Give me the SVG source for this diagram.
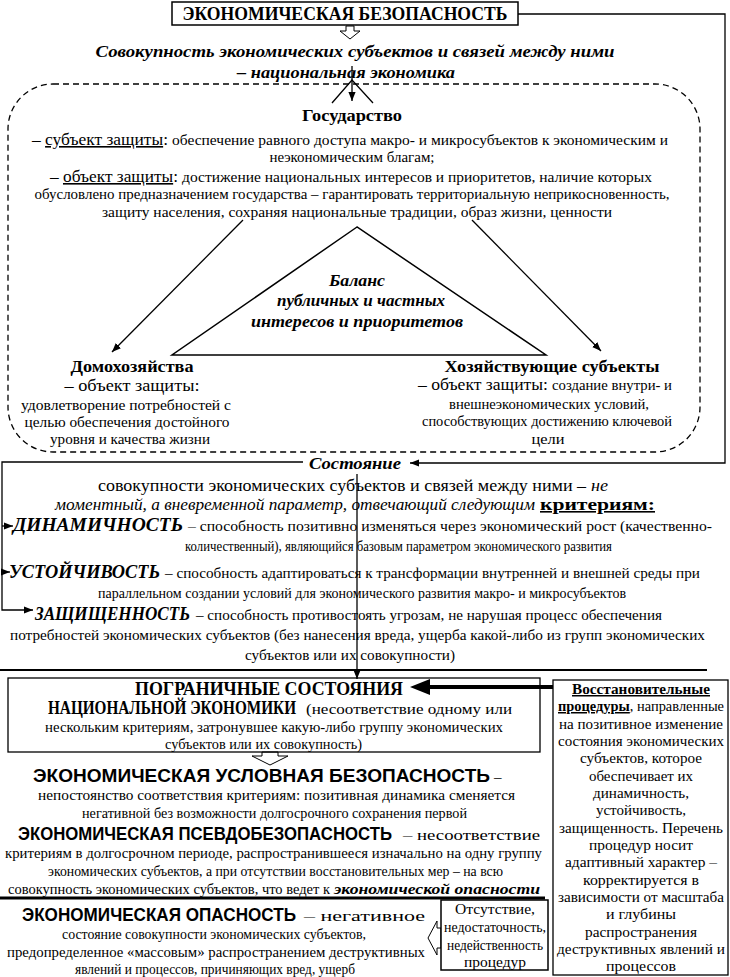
<svg xmlns="http://www.w3.org/2000/svg" width="730" height="977" viewBox="0 0 730 977">
<style>
text{font-family:"Liberation Serif","DejaVu Serif","Times New Roman",serif;fill:#000}
.b{font-weight:bold}
.i{font-style:italic}
.sans{font-family:"Liberation Sans","Noto Sans",Arial,sans-serif;font-weight:bold}
.u{text-decoration:underline}
.m{text-anchor:middle}
.ln{stroke:#000;stroke-width:1.3;fill:none}
.box{stroke:#000;stroke-width:1.5;fill:#fff}
.hol{stroke:#000;stroke-width:1;fill:#fff}
</style>
<defs>
<marker id="ah" viewBox="0 0 10 10" refX="10" refY="5" markerWidth="9" markerHeight="9" markerUnits="userSpaceOnUse" orient="auto"><path d="M0,1 L10,5 L0,9 z" fill="#000"/></marker>
</defs>
<rect width="730" height="977" fill="#fff"/>

<g id="container">
<rect x="8" y="84" width="692" height="368" rx="45" ry="45" fill="none" stroke="#000" stroke-width="1.3" stroke-dasharray="6 4"/>
</g>

<g id="connectors">
<polyline class="ln" points="518,14 725,14 725,463 410,463" marker-end="url(#ah)"/>
<polygon class="hol" points="346,26 354,26 354,31 360,31 350,39 340,31 346,31"/>
<line class="ln" x1="352" y1="66" x2="352" y2="101" marker-end="url(#ah)"/>
<polyline class="ln" points="332,103 352,80 373,103"/>
<line class="ln" x1="243" y1="220" x2="112" y2="352" marker-end="url(#ah)"/>
<line class="ln" x1="472" y1="220" x2="601" y2="351" marker-end="url(#ah)"/>
<polyline class="ln" points="303,462 2,462 2,610 33,610" marker-end="url(#ah)"/>
<line class="ln" x1="2" y1="526" x2="13" y2="526" marker-end="url(#ah)"/>
<line class="ln" x1="2" y1="572" x2="10" y2="572" marker-end="url(#ah)"/>
<line class="ln" x1="357" y1="474" x2="357" y2="679" marker-end="url(#ah)"/>
<line x1="0" y1="670" x2="707" y2="670" stroke="#000" stroke-width="2"/>
<line x1="553" y1="687" x2="426" y2="687" stroke="#000" stroke-width="4"/>
<polygon points="410,687 430,679 430,695" fill="#000"/>
<polygon class="hol" points="262,752 278,752 278,756 288,756 270,765 252,756 262,756"/>
<line x1="0" y1="898" x2="545" y2="898" stroke="#000" stroke-width="3"/>
<polygon class="hol" points="441,928 437,928 437,921 428,938 437,955 437,948 441,948"/>
</g>

<g id="title">
<rect class="box" x="172" y="2" width="346" height="23"/>
<text class="b m" x="345" y="20" font-size="18" textLength="325" lengthAdjust="spacingAndGlyphs">ЭКОНОМИЧЕСКАЯ БЕЗОПАСНОСТЬ</text>
</g>

<g id="national-economy">
<text class="b i m" x="355" y="57" font-size="17" textLength="519" lengthAdjust="spacingAndGlyphs">Совокупность экономических субъектов и связей между ними</text>
<text class="b i m" x="346" y="78" font-size="17" textLength="218" lengthAdjust="spacingAndGlyphs">– национальная экономика</text>
</g>

<g id="state">
<text class="b m" x="352" y="121" font-size="17" textLength="100" lengthAdjust="spacingAndGlyphs">Государство</text>
<text x="32" y="145" font-size="16" textLength="136" lengthAdjust="spacingAndGlyphs">– <tspan class="u">субъект защиты</tspan>:</text>
<text x="172" y="145" font-size="14.5" textLength="496" lengthAdjust="spacingAndGlyphs">обеспечение равного доступа макро- и микросубъектов к экономическим и</text>
<text class="m" x="352" y="162" font-size="14.5" textLength="165" lengthAdjust="spacingAndGlyphs">неэкономическим благам;</text>
<text x="50" y="182" font-size="16" textLength="128" lengthAdjust="spacingAndGlyphs">– <tspan class="u">объект защиты</tspan>:</text>
<text x="182" y="182" font-size="14.5" textLength="470" lengthAdjust="spacingAndGlyphs">достижение национальных интересов и приоритетов, наличие которых</text>
<text class="m" x="352" y="199" font-size="14.5" textLength="635" lengthAdjust="spacingAndGlyphs">обусловлено предназначением государства – гарантировать территориальную неприкосновенность,</text>
<text class="m" x="357" y="217" font-size="14.5" textLength="510" lengthAdjust="spacingAndGlyphs">защиту населения, сохраняя национальные традиции, образ жизни, ценности</text>
</g>

<g id="balance">
<polygon points="357,227 172,355 546,355" fill="none" stroke="#000" stroke-width="1.5"/>
<text class="b i m" x="357" y="286" font-size="16" textLength="56" lengthAdjust="spacingAndGlyphs">Баланс</text>
<text class="b i m" x="361" y="306" font-size="16" textLength="168" lengthAdjust="spacingAndGlyphs">публичных и частных</text>
<text class="b i m" x="357" y="327" font-size="16" textLength="212" lengthAdjust="spacingAndGlyphs">интересов и приоритетов</text>
</g>

<g id="households">
<text class="b m" x="132" y="372" font-size="17" textLength="123" lengthAdjust="spacingAndGlyphs">Домохозяйства</text>
<text class="m" x="132" y="391" font-size="16" textLength="135" lengthAdjust="spacingAndGlyphs">– объект защиты:</text>
<text class="m" x="126" y="410" font-size="14.5" textLength="210" lengthAdjust="spacingAndGlyphs">удовлетворение потребностей с</text>
<text class="m" x="127" y="427" font-size="14.5" textLength="205" lengthAdjust="spacingAndGlyphs">целью обеспечения достойного</text>
<text class="m" x="130" y="444" font-size="14.5" textLength="160" lengthAdjust="spacingAndGlyphs">уровня и качества жизни</text>
</g>

<g id="firms">
<text class="b m" x="552" y="372" font-size="17" textLength="215" lengthAdjust="spacingAndGlyphs">Хозяйствующие субъекты</text>
<text x="418" y="390" font-size="16" textLength="130" lengthAdjust="spacingAndGlyphs">– объект защиты:</text>
<text x="552" y="390" font-size="14.5" textLength="120" lengthAdjust="spacingAndGlyphs">создание внутри- и</text>
<text class="m" x="549" y="409" font-size="14.5" textLength="200" lengthAdjust="spacingAndGlyphs">внешнеэкономических условий,</text>
<text class="m" x="547" y="426" font-size="14.5" textLength="250" lengthAdjust="spacingAndGlyphs">способствующих достижению ключевой</text>
<text class="m" x="548" y="444" font-size="14.5" textLength="33" lengthAdjust="spacingAndGlyphs">цели</text>
</g>

<g id="condition">
<text class="b i m" x="355" y="469" font-size="17" textLength="92" lengthAdjust="spacingAndGlyphs">Состояние</text>
<text x="98" y="491" font-size="16" textLength="488" lengthAdjust="spacingAndGlyphs">совокупности экономических субъектов и связей между ними –</text>
<text class="i" x="591" y="491" font-size="16" textLength="17" lengthAdjust="spacingAndGlyphs">не</text>
<text class="i" x="55" y="510" font-size="16" textLength="480" lengthAdjust="spacingAndGlyphs">моментный, а вневременной параметр, отвечающий следующим</text>
<text class="b u" x="540" y="510" font-size="16" textLength="115" lengthAdjust="spacingAndGlyphs">критериям:</text>
</g>

<g id="dynamism">
<text class="b i" x="13" y="531" font-size="18" textLength="170" lengthAdjust="spacingAndGlyphs">ДИНАМИЧНОСТЬ</text>
<text x="188" y="531" font-size="14.5" textLength="524" lengthAdjust="spacingAndGlyphs">– способность позитивно изменяться через экономический рост (качественно-</text>
<text x="185" y="551" font-size="14.5" textLength="427" lengthAdjust="spacingAndGlyphs">количественный), являющийся базовым параметром экономического развития</text>
</g>

<g id="stability">
<text class="b i" x="9" y="578" font-size="18" textLength="151" lengthAdjust="spacingAndGlyphs">УСТОЙЧИВОСТЬ</text>
<text x="165" y="578" font-size="14.5" textLength="535" lengthAdjust="spacingAndGlyphs">– способность адаптироваться к трансформации внутренней и внешней среды при</text>
<text x="98" y="598" font-size="14.5" textLength="528" lengthAdjust="spacingAndGlyphs">параллельном создании условий для экономического развития макро- и микросубъектов</text>
</g>

<g id="security">
<text class="b i" x="35" y="620" font-size="18" textLength="155" lengthAdjust="spacingAndGlyphs">ЗАЩИЩЕННОСТЬ</text>
<text x="196" y="620" font-size="14.5" textLength="466" lengthAdjust="spacingAndGlyphs">– способность противостоять угрозам, не нарушая процесс обеспечения</text>
<text x="10" y="640" font-size="14.5" textLength="695" lengthAdjust="spacingAndGlyphs">потребностей экономических субъектов (без нанесения вреда, ущерба какой-либо из групп экономических</text>
<text x="245" y="660" font-size="14.5" textLength="210" lengthAdjust="spacingAndGlyphs">субъектов или их совокупности)</text>
</g>

<g id="border-states">
<rect x="8" y="678" width="532" height="74" fill="none" stroke="#000" stroke-width="1.3"/>
<text class="b" x="135" y="695" font-size="18" textLength="268" lengthAdjust="spacingAndGlyphs">ПОГРАНИЧНЫЕ СОСТОЯНИЯ</text>
<text class="b" x="48" y="714" font-size="18" textLength="248" lengthAdjust="spacingAndGlyphs">НАЦИОНАЛЬНОЙ ЭКОНОМИКИ</text>
<text x="306" y="714" font-size="15" textLength="206" lengthAdjust="spacingAndGlyphs">(несоответствие одному или</text>
<text x="45" y="732" font-size="15" textLength="458" lengthAdjust="spacingAndGlyphs">нескольким критериям, затронувшее какую-либо группу экономических</text>
<text x="165" y="749" font-size="15" textLength="197" lengthAdjust="spacingAndGlyphs">субъектов или их совокупность)</text>
</g>

<g id="conditional-security">
<text class="sans" x="33" y="782" font-size="18" textLength="457" lengthAdjust="spacingAndGlyphs">ЭКОНОМИЧЕСКАЯ УСЛОВНАЯ БЕЗОПАСНОСТЬ</text>
<text x="494" y="782" font-size="15">–</text>
<text x="38" y="800" font-size="15" textLength="477" lengthAdjust="spacingAndGlyphs">непостоянство соответствия критериям: позитивная динамика сменяется</text>
<text x="82" y="818" font-size="15" textLength="385" lengthAdjust="spacingAndGlyphs">негативной без возможности долгосрочного сохранения первой</text>
</g>

<g id="pseudo-security">
<text class="sans" x="18" y="840" font-size="18" textLength="374" lengthAdjust="spacingAndGlyphs">ЭКОНОМИЧЕСКАЯ ПСЕВДОБЕЗОПАСНОСТЬ</text>
<text x="403" y="840" font-size="15" textLength="137" lengthAdjust="spacingAndGlyphs">– несоответствие</text>
<text x="5" y="858" font-size="15" textLength="537" lengthAdjust="spacingAndGlyphs">критериям в долгосрочном периоде, распространившееся изначально на одну группу</text>
<text x="48" y="876" font-size="15" textLength="455" lengthAdjust="spacingAndGlyphs">экономических субъектов, а при отсутствии восстановительных мер – на всю</text>
<text x="8" y="894" font-size="15" textLength="322" lengthAdjust="spacingAndGlyphs">совокупность экономических субъектов, что ведет к</text>
<text class="b i" x="334" y="894" font-size="15" textLength="206" lengthAdjust="spacingAndGlyphs">экономической опасности</text>
</g>

<g id="danger">
<text class="sans" x="22" y="921" font-size="18" textLength="274" lengthAdjust="spacingAndGlyphs">ЭКОНОМИЧЕСКАЯ ОПАСНОСТЬ</text>
<text x="304" y="921" font-size="15" textLength="121" lengthAdjust="spacingAndGlyphs">– негативное</text>
<text x="62" y="939" font-size="15" textLength="304" lengthAdjust="spacingAndGlyphs">состояние совокупности экономических субъектов,</text>
<text x="7" y="957" font-size="15" textLength="418" lengthAdjust="spacingAndGlyphs">предопределенное «массовым» распространением деструктивных</text>
<text x="75" y="974" font-size="15" textLength="280" lengthAdjust="spacingAndGlyphs">явлений и процессов, причиняющих вред, ущерб</text>
</g>

<g id="absence">
<rect x="441" y="900" width="107" height="70" fill="#fff" stroke="#000" stroke-width="1.5"/>
<text class="m" x="495" y="914" font-size="14" textLength="80" lengthAdjust="spacingAndGlyphs">Отсутствие,</text>
<text class="m" x="495" y="932" font-size="14" textLength="102" lengthAdjust="spacingAndGlyphs">недостаточность,</text>
<text class="m" x="495" y="950" font-size="14" textLength="96" lengthAdjust="spacingAndGlyphs">недейственность</text>
<text class="m" x="495" y="967" font-size="14" textLength="62" lengthAdjust="spacingAndGlyphs">процедур</text>
</g>

<g id="restoration">
<rect x="553" y="680" width="175" height="295" fill="#fff" stroke="#000" stroke-width="1.3"/>
<text class="m b u" x="641" y="694" font-size="15" textLength="138" lengthAdjust="spacingAndGlyphs">Восстановительные</text>
<text class="m" x="641" y="711" font-size="15" textLength="166" lengthAdjust="spacingAndGlyphs"><tspan class="b u">процедуры</tspan>, направленные</text>
<text class="m" x="641" y="729" font-size="15" textLength="164" lengthAdjust="spacingAndGlyphs">на позитивное изменение</text>
<text class="m" x="641" y="746" font-size="15" textLength="166" lengthAdjust="spacingAndGlyphs">состояния экономических</text>
<text class="m" x="641" y="763" font-size="15" textLength="122" lengthAdjust="spacingAndGlyphs">субъектов, которое</text>
<text class="m" x="641" y="781" font-size="15" textLength="104" lengthAdjust="spacingAndGlyphs">обеспечивает их</text>
<text class="m" x="641" y="798" font-size="15" textLength="96" lengthAdjust="spacingAndGlyphs">динамичность,</text>
<text class="m" x="641" y="815" font-size="15" textLength="90" lengthAdjust="spacingAndGlyphs">устойчивость,</text>
<text class="m" x="641" y="833" font-size="15" textLength="164" lengthAdjust="spacingAndGlyphs">защищенность. Перечень</text>
<text class="m" x="641" y="850" font-size="15" textLength="104" lengthAdjust="spacingAndGlyphs">процедур носит</text>
<text class="m" x="641" y="867" font-size="15" textLength="152" lengthAdjust="spacingAndGlyphs">адаптивный характер –</text>
<text class="m" x="641" y="885" font-size="15" textLength="116" lengthAdjust="spacingAndGlyphs">корректируется в</text>
<text class="m" x="641" y="902" font-size="15" textLength="166" lengthAdjust="spacingAndGlyphs">зависимости от масштаба</text>
<text class="m" x="641" y="919" font-size="15" textLength="70" lengthAdjust="spacingAndGlyphs">и глубины</text>
<text class="m" x="641" y="937" font-size="15" textLength="112" lengthAdjust="spacingAndGlyphs">распространения</text>
<text class="m" x="641" y="954" font-size="15" textLength="168" lengthAdjust="spacingAndGlyphs">деструктивных явлений и</text>
<text class="m" x="641" y="971" font-size="15" textLength="70" lengthAdjust="spacingAndGlyphs">процессов</text>
</g>
</svg>
